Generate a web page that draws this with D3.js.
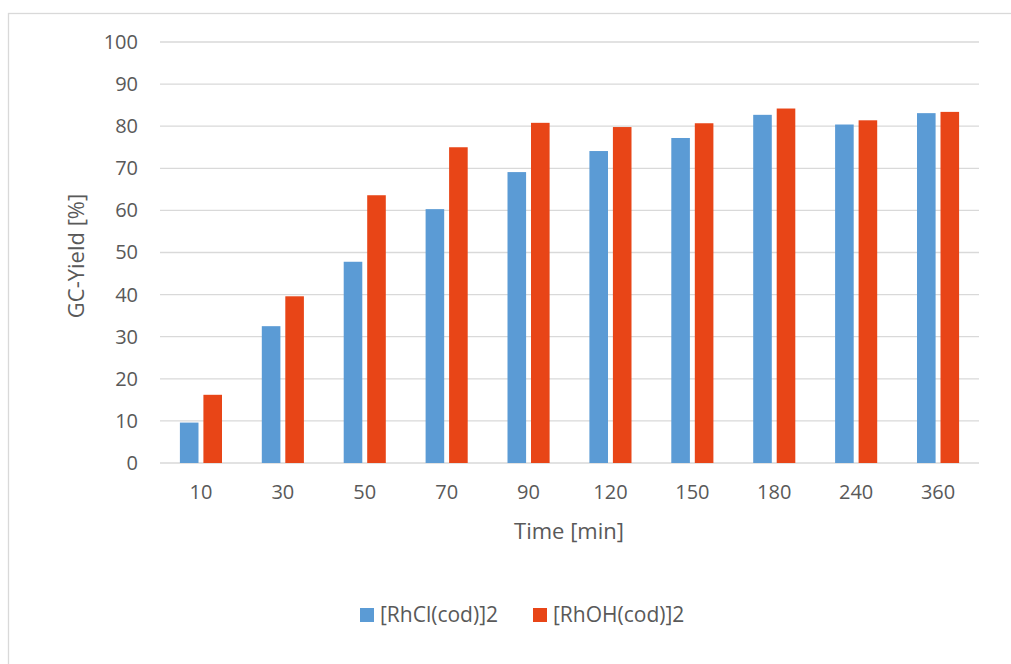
<!DOCTYPE html>
<html>
<head>
<meta charset="utf-8">
<script src="https://cdn.jsdelivr.net/npm/d3@7"></script>
<style>
  body { margin: 0; background: #fff; }
  text { font-family: "Open Sans", Lato, sans-serif; fill: #595959; }
</style>
</head>
<body>
<svg id="chart" width="1011" height="664"></svg>
<script>
// temps de réaction (min) et rendement GC (%)
var times = ["10", "30", "50", "70", "90", "120", "150", "180", "240", "360"];
var seriesNames = ["[RhCl(cod)]2", "[RhOH(cod)]2"];
var rhcl = [9.6, 32.5, 47.8, 60.3, 69.1, 74.1, 77.2, 82.7, 80.4, 83.1];
var rhoh = [16.2, 39.6, 63.6, 75.0, 80.8, 79.8, 80.7, 84.2, 81.4, 83.4];
var yTicks = [0, 10, 20, 30, 40, 50, 60, 70, 80, 90, 100];
var colors = ["#5B9BD5", "#E84517"];

var svg = d3.select("#chart");

// cadre du graphique
svg.append("rect")
  .attr("x", 8.5).attr("y", 13.5)
  .attr("width", 1010).attr("height", 660)
  .style("fill", "none").style("stroke", "#D9D9D9").style("stroke-width", 1.3);

var margin = {top: 42, left: 160},
    width = 819, height = 421;

var container = svg.append("g")
  .attr("transform", "translate(" + margin.left + "," + margin.top + ")");

var x = d3.scaleBand().domain(times).range([0, width]).padding(0);
var y = d3.scaleLinear().domain([0, 100]).range([height, 0]);

// grille
container.append("g")
  .selectAll("line")
  .data(yTicks)
  .join("line")
  .attr("x1", 0).attr("x2", width)
  .attr("y1", d => y(d)).attr("y2", d => y(d))
  .style("stroke", "#D9D9D9").style("stroke-width", 1.3);

var yAxis = container.append("g")
  .call(d3.axisLeft(y).tickValues(yTicks).tickSize(0).tickPadding(22));
yAxis.select(".domain").remove();
yAxis.selectAll("text").style("font-size", "20px").attr("fill", "#595959");

var xAxis = container.append("g")
  .attr("transform", "translate(0," + height + ")")
  .call(d3.axisBottom(x).tickSize(0).tickPadding(22));
xAxis.select(".domain").remove();
xAxis.selectAll("text").style("font-size", "20px").attr("fill", "#595959");

// barres
var bw = x.bandwidth() * 0.227;
var gap = x.bandwidth() * 0.06;
var data = [rhcl, rhoh];

data.forEach(function (vals, s) {
  container.append("g")
    .selectAll("rect")
    .data(vals)
    .join("rect")
    .attr("x", (d, i) => x(times[i]) + x.bandwidth() / 2 + (s === 0 ? -gap / 2 - bw : gap / 2))
    .attr("y", d => y(d))
    .attr("width", bw)
    .attr("height", d => y(0) - y(d))
    .style("fill", colors[s]);
});

// titres des axes
svg.append("text")
  .attr("transform", "translate(84,256) rotate(-90)")
  .attr("text-anchor", "middle")
  .style("font-size", "22px")
  .text("GC-Yield [%]");

svg.append("text")
  .attr("x", 569).attr("y", 539)
  .attr("text-anchor", "middle")
  .style("font-size", "22px")
  .text("Time [min]");

// légende
var legendX = [360, 533];
var legend = svg.append("g").selectAll("g")
  .data(seriesNames)
  .join("g")
  .attr("transform", (d, i) => "translate(" + legendX[i] + ",608)");
legend.append("rect")
  .attr("width", 14).attr("height", 14)
  .style("fill", (d, i) => colors[i]);
legend.append("text")
  .attr("x", 20).attr("y", 14)
  .style("font-size", "21px")
  .text(d => d);
</script>
</body>
</html>
